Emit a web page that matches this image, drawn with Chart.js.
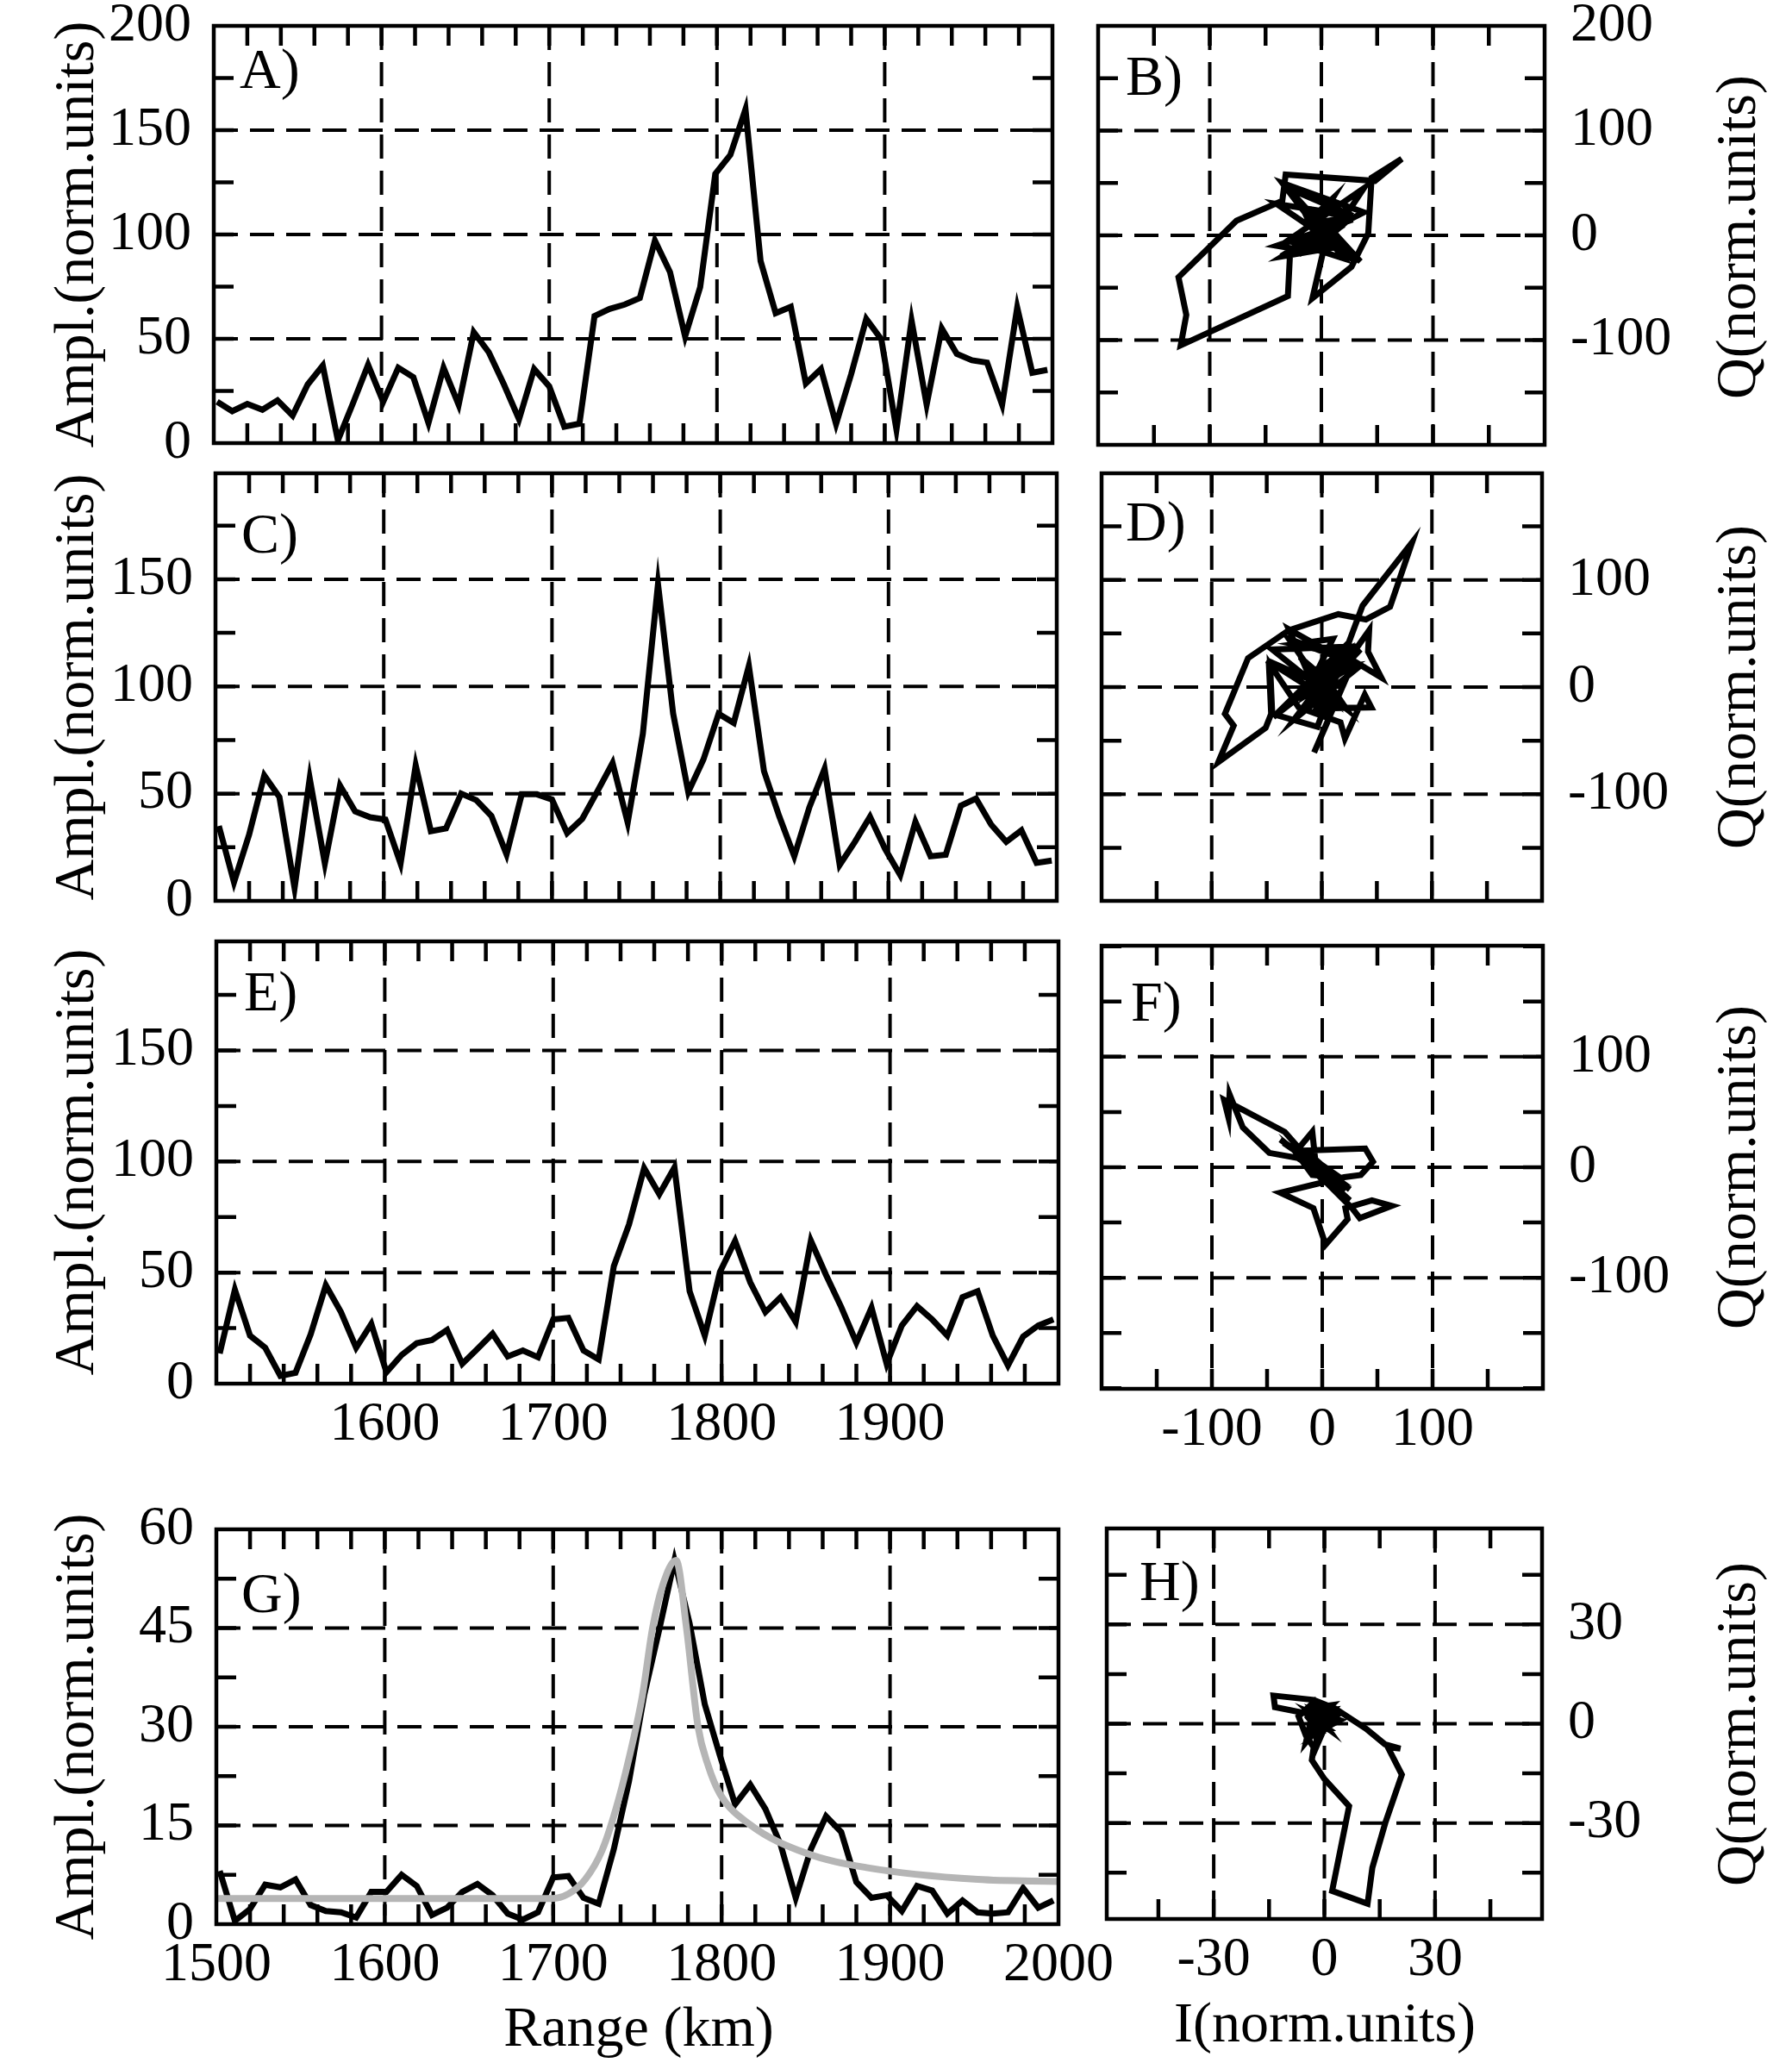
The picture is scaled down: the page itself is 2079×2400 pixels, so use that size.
<!DOCTYPE html>
<html lang="en">

<head>
    <meta charset="UTF-8">
    <title>Amplitude and IQ profiles</title>
    <script src="https://cdn.jsdelivr.net/npm/chart.js"></script>
    <style>
        body { margin: 0; background: #fff; }
        #page { position: relative; width: 2079px; height: 2400px; background: #fff; }
        #page canvas { position: absolute; }
    </style>
</head>

<body>
    <div id="page"></div>
    <script>
        // range gates (km), shared by the amplitude panels
        const rangeKm = [1502, 1511, 1520, 1529, 1538, 1547, 1556, 1565, 1574, 1583, 1592, 1601, 1610, 1619,
            1628, 1637, 1646, 1655, 1664, 1673, 1682, 1691, 1700, 1709, 1718, 1727, 1736, 1745, 1754, 1763,
            1772, 1781, 1790, 1799, 1808, 1817, 1826, 1835, 1844, 1853, 1862, 1871, 1880, 1889, 1898, 1907,
            1916, 1925, 1934, 1943, 1952, 1961, 1970, 1979, 1988, 1997];

        const ampA = [19.8, 15.3, 18.8, 16.0, 20.5, 13.2, 28.1, 37.2, 1.3, 19.1, 37.5, 19.8, 36.1, 31.6, 9.7, 36.1,
            18.4, 53.2, 43.5, 28.1, 11.4, 35.5, 27.2, 7.9, 9.3, 60.9, 64.3, 66.4, 69.5, 97.1, 82.0, 51.1, 74.8,
            129.1, 138.2, 160.0, 87.3, 62.3, 65.3, 28.6, 35.5, 9.1, 33.0, 59.5, 49.7, 6.5, 58.8, 18.4, 55.0, 42.8,
            39.7, 38.6, 18.4, 65.0, 33.7, 35.1];
        const ampC = [34.9, 8.7, 30.9, 58.5, 48.4, 6.0, 57.1, 17.4, 53.8, 41.7, 39.0, 37.9, 17.4, 63.2, 32.5, 33.8,
            50.0, 47.0, 39.6, 21.7, 49.7, 49.7, 47.3, 31.6, 38.3, 51.1, 64.3, 36.5, 78.0, 147.7, 87.4, 50.8, 65.9,
            87.2, 83.0, 109.6, 60.5, 39.6, 20.8, 43.7, 61.6, 16.8, 27.5, 39.2, 24.2, 12.0, 36.9, 20.8, 21.5, 44.4,
            47.7, 35.6, 27.5, 32.9, 17.7, 18.8];
        const ampE = [13.6, 42.3, 21.6, 16.2, 3.5, 4.9, 22.2, 44.3, 32.2, 16.2, 26.9, 5.1, 12.9, 18.2, 19.6, 24.2,
            8.9, 15.6, 22.5, 12.2, 14.9, 11.9, 28.9, 29.6, 14.9, 10.9, 52.9, 71.6, 97.0, 85.3, 97.3, 41.6, 21.6,
            50.3, 64.3, 45.6, 32.2, 38.9, 27.8, 64.3, 48.9, 34.5, 18.5, 34.2, 8.9, 26.2, 34.9, 28.9, 21.6, 38.9,
            41.6, 21.6, 8.2, 21.2, 26.2, 28.9];
        const ampG = [8.1, 0.5, 2.3, 6.0, 5.6, 6.8, 2.9, 2.0, 1.8, 1.0, 4.9, 4.9, 7.5, 5.8, 1.4, 2.5, 4.9, 6.1, 4.4,
            1.6, 0.7, 1.8, 7.1, 7.3, 4.0, 3.1, 11.4, 21.7, 34.8, 44.8, 55.3, 45.7, 33.4, 25.6, 18.2, 21.2, 17.5,
            12.1, 4.0, 11.4, 16.4, 14.0, 6.4, 4.0, 4.4, 2.0, 5.8, 5.1, 1.6, 3.6, 1.8, 1.6, 1.8, 5.5, 2.5, 3.6];

        // grey model curve in G
        const modelRangeG = [1500, 1600, 1699, 1709, 1719, 1729, 1737, 1745, 1753, 1759, 1765, 1773, 1779, 1786,
            1792, 1799, 1817, 1850, 1886, 1952, 2000];
        const modelAmpG = [3.9, 3.9, 3.9, 4.6, 6.8, 11.2, 17.3, 25.2, 34.8, 45.0, 51.5, 55.3, 45.3, 30.0, 24.1,
            19.8, 15.1, 10.8, 8.6, 6.8, 6.5];

        // I / Q traces
        const iB = [12, -10, 15, -8, 18, -5, 20, -40, 0, -15, 25, -12, -40, 28, -5, 10, -10, -35, 38, -25, 5, 35,
            -15, -2, 3, -8, 27, 42, 45, 72, 48, -32, -35, -76, -128, -121, -126, -30, -28, 20, -20, 5, 25, -30, 30,
            0, -36, 15, 38, -30, 20, -18, 10, -35, 22, -10];
        const qB = [15, 11, -10, 14, 9, -12, 20, 30, 1, -12, 28, -15, -10, 15, 8, 35, 15, 50, 22, -12, 10, -25, 22,
            -8, -9, -60, -30, 2, 55, 73, 52, 58, 33, 14, -40, -76, -105, -58, -16, 10, -18, -5, 20, 45, -25, 4, -20,
            8, 45, -5, -22, 30, -12, -20, 18, 25];
        const iD = [-20, 5, 22, -45, 30, -4, -50, 10, -30, 35, -25, 20, -12, -30, 15, -20, 35, -44, 18, -5, 45, 39,
            21, 17, -21, -47, -45, -4, 37, 82, 62, 40, 15, -30, -67, -88, -80, -94, -51, -46, -48, -10, 25, -7, 5,
            10, 43, 42, 54, 20, -25, 10, -15, 28, -10, 5];
        const qD = [28, 6, -20, 35, 38, 4, 25, -14, 45, 20, -30, 32, 12, 54, 28, -26, 35, -28, 35, -20, -19, -7,
            -48, -33, -19, 21, -25, -37, 76, 135, 75, 63, 68, 53, 27, -25, -36, -70, -38, -25, 20, 10, 15, -61, -33,
            5, 53, 33, 9, 30, 40, 45, -8, 20, 15, -18];
        const iF = [-10, -35, 15, -12, 3, -4, 18, -38, 25, -13, 20, -4, 10, -15, 16, -20, 5, -12, 20, -9, 12, -9,
            -25, 20, -12, -9, -48, -72, -84, -85, -89, -34, -19, 39, 46, 35, 20, -38, -8, 3, 23, 21, 45, 63, 34, 27,
            -24, -9, -5, -30, 25, 10, -6, -15, 20, -22];
        const qF = [8, 22, -12, 10, -2, 3, -15, 25, -20, 10, -18, -3, -8, 10, -12, 14, -7, 10, -12, 8, -9, -7, 15,
            -22, 9, 6, 13, 36, 66, 45, 61, 32, 15, 17, 5, -7, -9, -23, -37, -70, -47, -37, -30, -35, -46, -37, 14,
            32, -6, 20, -30, -20, 5, 15, -16, 18];
        const iH = [-3, 0.3, -1.5, 2, -3, -2, 1.5, -1.8, 1, -0.5, -3.5, 2.5, -5, -2.9, 1, -2, -4.5, -2.9, 3.5, -1.5,
            0.5, -1.7, -2.9, -7, -5, -2.9, -3.4, 0, 6.7, 2.1, 11.7, 13, 16.5, 21, 17.2, 20.6, 16.4, 11.3, 2.9, -2.9,
            -13.8, -13.4, -3.8, -1.7, 1.7, -1, 4.2, -2.9, -1, -3, 1, -1.5, 1.5, -4, 1.5, -2.5];
        const qH = [-7.5, 0.4, 1.7, 5.6, 4.8, -6.5, 2.5, 0.8, -1.5, 0.8, 3.4, 4.2, -5.6, 5, 1, -1.5, 2, 5.4, 2.7,
            -0.6, 0.5, 0.6, 6.5, 2.2, -3.6, -7.1, -11, -16.7, -24.9, -50.5, -54.4, -43.5, -30, -15.4, -7.1, -7.5,
            -6.2, -1.5, 4.6, 7.2, 8.5, 5, 2.9, 5.9, 0.7, -2, 1.1, 4, 1.5, -2, -1.5, 0.5, 1, 3.5, -2, 2.5];

        // tick labels
        const rangeLabels = [1500, 1600, 1700, 1800, 1900, 2000];
        const rangeLabelsInner = [1600, 1700, 1800, 1900];
        const ampLabels = [0, 50, 100, 150, 200];
        const ampLabelsShort = [0, 50, 100, 150];
        const ampLabelsG = [0, 15, 30, 45, 60];
        const iqLabelsB = [-100, 0, 100, 200];
        const iqLabels = [-100, 0, 100];
        const iqLabelsH = [-30, 0, 30];

        const FONT = '"Liberation Serif", "Times New Roman", serif';
        const AMPL = 'Ampl.(norm.units)';
        const QT = 'Q(norm.units)';
        const LW = 7;

        function trace(xs, ys, color, width, smooth) {
            return {
                data: xs.map((x, i) => ({ x: x, y: ys[i] })),
                showLine: true, borderColor: color, borderWidth: width, pointRadius: 0,
                borderJoinStyle: 'miter', tension: 0,
                cubicInterpolationMode: smooth ? 'monotone' : 'default'
            };
        }

        const panels = [
            { canvas: [0, 0, 1310, 545], plot: [248, 30, 1221, 514], x: [1500, 2000], y: [0, 200], yPos: 'left',
              xLabels: [], yLabels: ampLabels, xGrid: [1600, 1700, 1800, 1900], yGrid: [50, 100, 150], xStep: 20, yStep: 25,
              sets: [trace(rangeKm, ampA, '#000', LW)],
              texts: [['A)', 278, 102, 0], [AMPL, 108, 272, -1]] },
            { canvas: [1240, 0, 839, 545], plot: [1274, 30, 1792, 516], x: [-200, 200], y: [-200, 200], yPos: 'right',
              xLabels: [], yLabels: iqLabelsB, xGrid: [-100, 0, 100], yGrid: [-100, 0, 100], xStep: 50, yStep: 50,
              sets: [trace(iB, qB, '#000', LW)],
              texts: [['B)', 1306, 110, 0], [QT, 2036, 275, -1]] },
            { canvas: [0, 540, 1310, 540], plot: [250, 549, 1226, 1045], x: [1500, 2000], y: [0, 199.4], yPos: 'left',
              xLabels: [], yLabels: ampLabelsShort, xGrid: [1600, 1700, 1800, 1900], yGrid: [50, 100, 150], xStep: 20, yStep: 25,
              sets: [trace(rangeKm, ampC, '#000', LW)],
              texts: [['C)', 280, 641, 0], [AMPL, 108, 797, -1]] },
            { canvas: [1240, 540, 839, 540], plot: [1278, 549, 1789, 1045], x: [-200, 200], y: [-199.5, 199.5], yPos: 'right',
              xLabels: [], yLabels: iqLabels, xGrid: [-100, 0, 100], yGrid: [-100, 0, 100], xStep: 50, yStep: 50,
              sets: [trace(iD, qD, '#000', LW)],
              texts: [['D)', 1306, 627, 0], [QT, 2036, 797, -1]] },
            { canvas: [0, 1075, 1310, 625], plot: [251, 1092, 1228, 1605], x: [1500, 2000], y: [0, 199.1], yPos: 'left',
              xLabels: rangeLabelsInner, yLabels: ampLabelsShort, xGrid: [1600, 1700, 1800, 1900], yGrid: [50, 100, 150], xStep: 20, yStep: 25,
              sets: [trace(rangeKm, ampE, '#000', LW)],
              texts: [['E)', 283, 1172, 0], [AMPL, 108, 1348, -1]] },
            { canvas: [1240, 1075, 839, 625], plot: [1278, 1097, 1790, 1611], x: [-200, 200], y: [-200.5, 200.5], yPos: 'right',
              xLabels: iqLabels, yLabels: iqLabels, xGrid: [-100, 0, 100], yGrid: [-100, 0, 100], xStep: 50, yStep: 50,
              sets: [trace(iF, qF, '#000', LW)],
              texts: [['F)', 1312, 1184, 0], [QT, 2036, 1354, -1]] },
            { canvas: [0, 1700, 1310, 700], plot: [251, 1774, 1228, 2232], x: [1500, 2000], y: [0, 60], yPos: 'left',
              xLabels: rangeLabels, yLabels: ampLabelsG, xGrid: [1600, 1700, 1800, 1900], yGrid: [15, 30, 45], xStep: 20, yStep: 7.5,
              sets: [trace(modelRangeG, modelAmpG, '#b5b5b5', 8, true), trace(rangeKm, ampG, '#000', LW)],
              texts: [['G)', 280, 1870, 0], [AMPL, 108, 2003, -1], ['Range (km)', 741, 2373, 0, 'center']] },
            { canvas: [1240, 1700, 839, 700], plot: [1284, 1773, 1789, 2226], x: [-59, 59], y: [-59, 59], yPos: 'right',
              xLabels: iqLabelsH, yLabels: iqLabelsH, xGrid: [-30, 0, 30], yGrid: [-30, 0, 30], xStep: 15, yStep: 15,
              sets: [trace(iH, qH, '#000', LW)],
              texts: [['H)', 1322, 1856, 0], [QT, 2036, 2000, -1], ['I(norm.units)', 1537, 2368, 0, 'center']] }
        ];

        function inside(min, max, step) {
            const out = [];
            for (let v = Math.ceil(min / step) * step; v < max - 1e-6; v += step) {
                if (v > min + 1e-6) out.push(v);
            }
            return out;
        }

        // fixed-size axis boxes so the plot area lands where the panel sits
        function axis(pos, range, labels, grid, pad, size) {
            const list = labels.length ? labels : grid;
            return {
                type: 'linear', position: pos, min: range[0], max: range[1],
                grid: { display: false, drawTicks: false },
                border: { display: false },
                afterBuildTicks: s => { s.ticks = list.map(v => ({ value: v })); },
                afterFit: s => {
                    if (s.isHorizontal()) s.height = size; else s.width = size;
                    s.paddingLeft = s.paddingRight = s.paddingTop = s.paddingBottom = 0;
                },
                ticks: {
                    display: labels.length > 0, autoSkip: false, maxRotation: 0, minRotation: 0,
                    padding: pad, color: '#000', font: { family: FONT, size: 64, lineHeight: 1 },
                    callback: v => String(v)
                }
            };
        }

        function framePlugin(p) {
            const TICK = 23;
            return {
                id: 'frame',
                beforeDatasetsDraw(chart) {
                    const { ctx, chartArea: a, scales: { x, y } } = chart;
                    ctx.save();
                    ctx.strokeStyle = '#000';
                    ctx.lineWidth = 4;
                    ctx.setLineDash([28, 14]);
                    p.xGrid.forEach(v => {
                        const px = x.getPixelForValue(v);
                        ctx.beginPath(); ctx.moveTo(px, a.top); ctx.lineTo(px, a.bottom); ctx.stroke();
                    });
                    p.yGrid.forEach(v => {
                        const py = y.getPixelForValue(v);
                        ctx.beginPath(); ctx.moveTo(a.left, py); ctx.lineTo(a.right, py); ctx.stroke();
                    });
                    ctx.setLineDash([]);
                    ctx.lineWidth = 4.5;
                    inside(p.x[0], p.x[1], p.xStep).forEach(v => {
                        const px = x.getPixelForValue(v);
                        ctx.beginPath();
                        ctx.moveTo(px, a.top); ctx.lineTo(px, a.top + TICK);
                        ctx.moveTo(px, a.bottom); ctx.lineTo(px, a.bottom - TICK);
                        ctx.stroke();
                    });
                    inside(p.y[0], p.y[1], p.yStep).forEach(v => {
                        const py = y.getPixelForValue(v);
                        ctx.beginPath();
                        ctx.moveTo(a.left, py); ctx.lineTo(a.left + TICK, py);
                        ctx.moveTo(a.right, py); ctx.lineTo(a.right - TICK, py);
                        ctx.stroke();
                    });
                    ctx.restore();
                },
                afterDatasetsDraw(chart) {
                    const { ctx, chartArea: a } = chart;
                    const [cx, cy] = p.canvas;
                    ctx.save();
                    ctx.strokeStyle = '#000';
                    ctx.lineWidth = 4.5;
                    ctx.strokeRect(a.left, a.top, a.right - a.left, a.bottom - a.top);
                    ctx.fillStyle = '#000';
                    ctx.font = '66px ' + FONT;
                    ctx.textBaseline = 'alphabetic';
                    p.texts.forEach(([txt, tx, ty, rot, align]) => {
                        ctx.save();
                        ctx.translate(tx - cx, ty - cy);
                        if (rot) {
                            ctx.rotate(-Math.PI / 2);
                            ctx.textAlign = 'center';
                        } else {
                            ctx.textAlign = align || 'left';
                        }
                        ctx.fillText(txt, 0, 0);
                        ctx.restore();
                    });
                    ctx.restore();
                }
            };
        }

        const page = document.getElementById('page');
        panels.forEach(p => {
            const [cx, cy, cw, ch] = p.canvas;
            const [l, t, r, b] = p.plot;
            const left = p.yPos === 'left';
            const cv = document.createElement('canvas');
            cv.width = cw;
            cv.height = ch;
            cv.style.left = cx + 'px';
            cv.style.top = cy + 'px';
            page.appendChild(cv);
            new Chart(cv, {
                type: 'scatter',
                data: { datasets: p.sets },
                options: {
                    responsive: false,
                    animation: false,
                    events: [],
                    devicePixelRatio: 1,
                    layout: {
                        autoPadding: false,
                        padding: {
                            left: left ? 0 : l - cx,
                            right: left ? cx + cw - r : 0,
                            top: t - cy,
                            bottom: 0
                        }
                    },
                    plugins: { legend: { display: false }, tooltip: { enabled: false } },
                    scales: {
                        x: axis('bottom', p.x, p.xLabels, p.xGrid, 16, cy + ch - b),
                        y: axis(p.yPos, p.y, p.yLabels, p.yGrid, left ? 26 : 30, left ? l - cx : cx + cw - r)
                    }
                },
                plugins: [framePlugin(p)]
            });
        });
    </script>
</body>

</html>
